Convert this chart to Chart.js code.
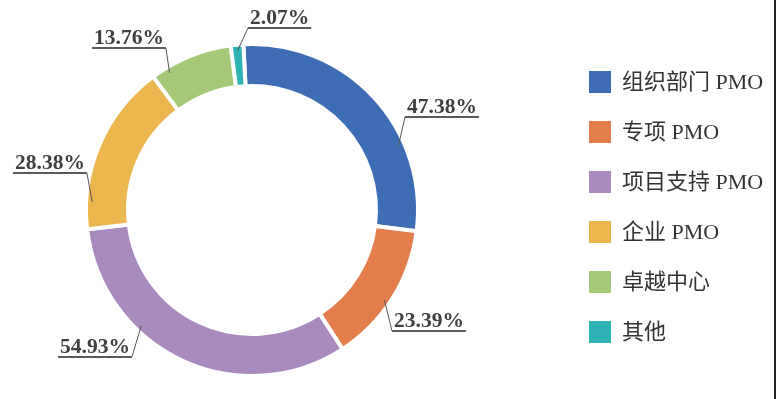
<!DOCTYPE html>
<html>
<head>
<meta charset="utf-8">
<script src="https://cdn.jsdelivr.net/npm/chart.js@4/dist/chart.umd.min.js"></script>
<style>
html,body{margin:0;padding:0;background:#fff;}
#wrap{width:776px;height:399px;position:relative;}
</style>
</head>
<body>
<div id="wrap"><canvas id="c" width="776" height="399"></canvas></div>
<script>
const categories = ['组织部门 PMO', '专项 PMO', '项目支持 PMO', '企业 PMO', '卓越中心', '其他'];
const values = [47.38, 23.39, 54.93, 28.38, 13.76, 2.07];
const valueLabels = ['47.38%', '23.39%', '54.93%', '28.38%', '13.76%', '2.07%'];
const colors = ['#3F6DB5', '#E47D4C', '#A98ABF', '#EBB64E', '#A5C978', '#2DB3B3'];

// label layout: text left x, baseline y, leader attaches at 'L' or 'R' end, position along arc
const labelLayout = [
  {x: 407, y: 113, side: 'L', t: 0.69},
  {x: 394, y: 327, side: 'L', t: 0.54},
  {x: 60,  y: 353, side: 'R', t: 0.66},
  {x: 15,  y: 169, side: 'R', t: 0.16},
  {x: 94,  y: 44,  side: 'R', t: 0.19},
  {x: 250, y: 24,  side: 'L', t: 0.5}
];

const labelPlugin = {
  id: 'labelPlugin',
  afterDraw(chart) {
    const ctx = chart.ctx;
    const meta = chart.getDatasetMeta(0);
    ctx.save();
    ctx.font = 'bold 21.5px "Liberation Serif", "Times New Roman", serif';
    ctx.textBaseline = 'alphabetic';
    ctx.textAlign = 'left';
    meta.data.forEach((arc, i) => {
      const L = labelLayout[i];
      const txt = valueLabels[i];
      const w = ctx.measureText(txt).width;
      ctx.fillStyle = '#404040';
      ctx.fillText(txt, L.x, L.y);
      const uy = L.y + 4;
      const x0 = L.x - 2, x1 = L.x + w + 2;
      ctx.strokeStyle = '#5a5a5a';
      ctx.lineWidth = 2;
      ctx.beginPath();
      ctx.moveTo(x0, uy); ctx.lineTo(x1, uy); ctx.stroke();
      const p = arc.getProps(['x', 'y', 'startAngle', 'endAngle', 'outerRadius', 'innerRadius'], true);
      const a = p.startAngle + (p.endAngle - p.startAngle) * L.t;
      const r = p.outerRadius - 6;
      const ax = p.x + Math.cos(a) * r, ay = p.y + Math.sin(a) * r;
      const sx = L.side === 'L' ? x0 : x1;
      ctx.lineWidth = 1;
      ctx.strokeStyle = '#555';
      ctx.beginPath();
      ctx.moveTo(sx, uy); ctx.lineTo(ax, ay); ctx.stroke();
    });
    // legend
    ctx.font = '22px "Liberation Serif", "Noto Sans CJK SC", serif';
    ctx.textBaseline = 'middle';
    categories.forEach((c, i) => {
      const cy = 82 + i * 50;
      ctx.fillStyle = colors[i];
      ctx.fillRect(589, cy - 11, 22, 22);
      ctx.fillStyle = '#333';
      ctx.fillText(c, 622, cy + 1);
    });
    // right border line
    ctx.strokeStyle = '#222';
    ctx.lineWidth = 2;
    ctx.beginPath();
    ctx.moveTo(775, 0); ctx.lineTo(775, 399); ctx.stroke();
    ctx.restore();
  }
};

new Chart(document.getElementById('c'), {
  type: 'doughnut',
  data: {
    labels: categories,
    datasets: [{
      data: values,
      backgroundColor: colors,
      borderColor: '#ffffff',
      borderWidth: 4,
      hoverOffset: 0
    }]
  },
  options: {
    responsive: false,
    animation: false,
    rotation: -3,
    radius: 166,
    cutout: 121,
    layout: {padding: {left: 88, right: 360, top: 46, bottom: 25}},
    plugins: {legend: {display: false}, tooltip: {enabled: false}}
  },
  plugins: [labelPlugin]
});
</script>
</body>
</html>
